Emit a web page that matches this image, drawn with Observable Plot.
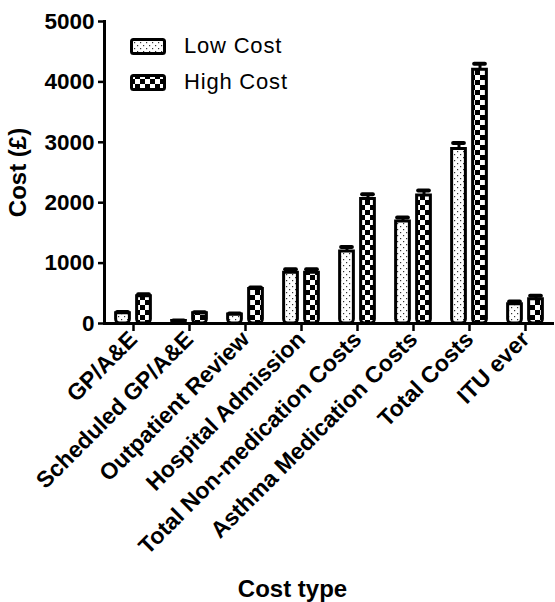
<!DOCTYPE html>
<html>
<head>
<meta charset="utf-8">
<script src="https://cdn.jsdelivr.net/npm/d3@7"></script>
<script src="https://cdn.jsdelivr.net/npm/@observablehq/plot@0.6"></script>
<style>
  body { margin: 0; background: #fff; font-family: "Liberation Sans", Arial, sans-serif; }
  #wrap { position: relative; width: 555px; height: 602px; }
  #legend { position: absolute; left: 130px; top: 28px; font-size: 22px; letter-spacing: 0.8px; color: #000; }
  #legend .row { display: flex; align-items: center; height: 36px; }
  #legend svg { margin-right: 18px; }
</style>
</head>
<body>
<div id="wrap"><div id="chart"></div><div id="legend"></div></div>
<script>
const categories = ["GP/A&E", "Scheduled GP/A&E", "Outpatient Review", "Hospital Admission",
  "Total Non-medication Costs", "Asthma Medication Costs", "Total Costs", "ITU ever"];
const lowCost  = [170, 40, 150, 840, 1190, 1690, 2890, 320];
const lowErr   = [20, 10, 15, 60, 75, 65, 100, 45];
const highCost = [450, 170, 570, 840, 2060, 2120, 4200, 400];
const highErr  = [35, 15, 25, 60, 80, 80, 100, 60];
const yTicks = [0, 1000, 2000, 3000, 4000, 5000];
const seriesNames = ["Low Cost", "High Cost"];

const rows = categories.map((c, i) => ({
  category: c, low: lowCost[i], lowTop: lowCost[i] + lowErr[i],
  high: highCost[i], highTop: highCost[i] + highErr[i]
}));

const half = (555 - 104 - 1) / categories.length / 2;
const barOpts = {stroke: "black", strokeWidth: 3};
const [maj, mnr] = (Plot.version || "0.6.0").split(".").slice(1).map(Number);
const newer = maj > 6 || (maj === 6 && mnr >= 13);
if (newer) barOpts.ry2 = 4; else barOpts.rx = 3;

const chart = Plot.plot({
  width: 555, height: 602,
  marginLeft: 104, marginRight: 1, marginTop: 21, marginBottom: 279,
  style: {fontFamily: '"Liberation Sans", Arial, sans-serif', fontWeight: "bold", color: "#000", background: "#fff", overflow: "visible"},
  x: {domain: categories, padding: 0, label: null},
  y: {domain: [0, 5000], label: null},
  marks: [
    Plot.barY(rows, {x: "category", y: "low", fill: "url(#dotsPat)", insetLeft: half - 17.5, insetRight: half + 3.5, ...barOpts}),
    Plot.barY(rows, {x: "category", y: "high", fill: "url(#checkPat)", insetLeft: half + 3.5, insetRight: half - 17.5, ...barOpts}),
    Plot.ruleX(rows, {x: "category", y1: "low", y2: "lowTop", dx: -10.5, strokeWidth: 3}),
    Plot.ruleX(rows, {x: "category", y1: "high", y2: "highTop", dx: 10.5, strokeWidth: 3}),
    Plot.tickY(rows, {x: "category", y: "lowTop", insetLeft: half - 16, insetRight: half + 5, strokeWidth: 4, strokeLinecap: "round"}),
    Plot.tickY(rows, {x: "category", y: "highTop", insetLeft: half + 5, insetRight: half - 16, strokeWidth: 4, strokeLinecap: "round"}),
    Plot.ruleY([0], {strokeWidth: 3}),
    Plot.frame({anchor: "left", strokeWidth: 3}),
    Plot.axisY({ticks: yTicks, tickFormat: d3.format("d"), tickSize: 6, tickPadding: 4, strokeWidth: 2.5, fontSize: 22.5,
      label: "Cost (£)", labelArrow: "none", labelAnchor: "center", labelOffset: 96}),
    Plot.axisX({tickRotate: -45, tickSize: 8, tickPadding: 4, strokeWidth: 2.5, fontSize: 23,
      label: "Cost type", labelArrow: "none", labelAnchor: "center", labelOffset: 273})
  ]
});

// patterns
const defs = d3.select(chart).insert("defs", ":first-child");
const dots = defs.append("pattern").attr("id", "dotsPat").attr("patternUnits", "userSpaceOnUse")
  .attr("width", 6).attr("height", 6);
dots.append("rect").attr("width", 6).attr("height", 6).attr("fill", "#fff");
dots.append("rect").attr("x", 1).attr("y", 1).attr("width", 1.2).attr("height", 1.2).attr("fill", "#333");
dots.append("rect").attr("x", 4).attr("y", 4).attr("width", 1.2).attr("height", 1.2).attr("fill", "#333");
const chk = defs.append("pattern").attr("id", "checkPat").attr("patternUnits", "userSpaceOnUse")
  .attr("width", 10).attr("height", 10);
chk.append("rect").attr("width", 10).attr("height", 10).attr("fill", "#000");
chk.append("rect").attr("width", 5).attr("height", 5).attr("fill", "#fff");
chk.append("rect").attr("x", 5).attr("y", 5).attr("width", 5).attr("height", 5).attr("fill", "#fff");

const svgSel = d3.select(chart);
svgSel.selectAll('g[aria-label="y-axis label"], g[aria-label="x-axis label"]').attr("font-size", 24);
svgSel.selectAll('g[aria-label="x-axis label"]').attr("transform", function() {
  return "translate(-37,0) " + (this.getAttribute("transform") || "");
});

document.getElementById("chart").appendChild(chart);

// legend
const legend = d3.select("#legend");
["url(#dotsPat)", "url(#checkPat)"].forEach((f, i) => {
  const row = legend.append("div").attr("class", "row");
  const s = row.append("svg").attr("width", 36).attr("height", 17);
  s.append("rect").attr("x", 1.5).attr("y", 1.5).attr("width", 33).attr("height", 14).attr("rx", 2)
    .attr("fill", f).attr("stroke", "#000").attr("stroke-width", 3);
  row.append("span").text(seriesNames[i]);
});
</script>
</body>
</html>
